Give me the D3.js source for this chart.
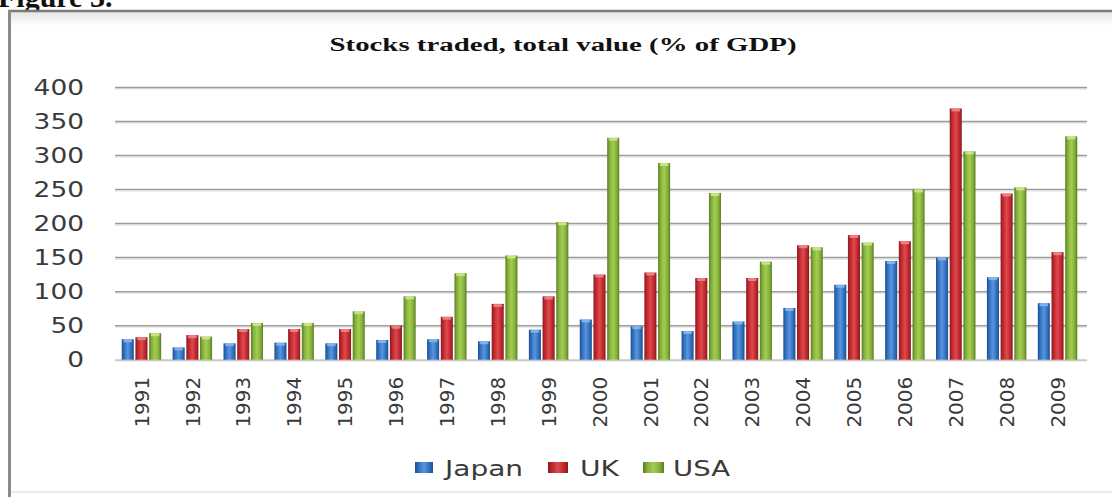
<!DOCTYPE html>
<html>
<head>
<meta charset="utf-8">
<script src="https://cdn.jsdelivr.net/npm/d3@7/dist/d3.min.js"></script>
<style>
  html, body { margin: 0; padding: 0; background: #fff; }
  svg { display: block; }
</style>
</head>
<body>
<svg id="chart" width="1112" height="497"></svg>
<script>
// Stocks traded, total value (% of GDP), 1991-2009
const years = ["1991","1992","1993","1994","1995","1996","1997","1998","1999","2000",
               "2001","2002","2003","2004","2005","2006","2007","2008","2009"];
const seriesNames = ["Japan", "UK", "USA"];
const japan = [30, 18, 24, 25, 24, 29, 30, 27, 44, 59, 49, 42, 56, 76, 110, 145, 150, 121, 83];
const uk    = [33, 36, 45, 45, 45, 50, 63, 82, 93, 125, 128, 120, 120, 168, 183, 174, 369, 244, 158];
const usa   = [39, 34, 54, 54, 71, 93, 127, 153, 202, 326, 289, 245, 144, 165, 172, 250, 306, 253, 328];
const yTicks = [0, 50, 100, 150, 200, 250, 300, 350, 400];

const seriesValues = [japan, uk, usa];
const colors = {
  Japan: { dark: "#1d4f8c", base: "#3172c2", light: "#5a95dc", top: "#8ab8ee" },
  UK:    { dark: "#8a1a1e", base: "#c3282e", light: "#dc4a4f", top: "#ee8a8c" },
  USA:   { dark: "#5a7d22", base: "#86b23a", light: "#a3cc55", top: "#cfe88f" }
};

const svg = d3.select("#chart");
const defs = svg.append("defs");

// cylinder-like shading for each series
seriesNames.forEach(name => {
  const c = colors[name];
  const g = defs.append("linearGradient").attr("id", "grad-" + name)
    .attr("x1", "0%").attr("x2", "100%").attr("y1", "0%").attr("y2", "0%");
  g.append("stop").attr("offset", "0%").attr("stop-color", c.dark);
  g.append("stop").attr("offset", "22%").attr("stop-color", c.base);
  g.append("stop").attr("offset", "50%").attr("stop-color", c.light);
  g.append("stop").attr("offset", "78%").attr("stop-color", c.base);
  g.append("stop").attr("offset", "100%").attr("stop-color", c.dark);
});
const topShade = defs.append("linearGradient").attr("id", "frame-top")
  .attr("x1", "0%").attr("x2", "0%").attr("y1", "0%").attr("y2", "100%");
topShade.append("stop").attr("offset", "0%").attr("stop-color", "#e6e6e6");
topShade.append("stop").attr("offset", "100%").attr("stop-color", "#ffffff");

// Page heading, partly above the visible area
svg.append("text")
  .attr("x", -2).attr("y", 7)
  .attr("font-family", "Liberation Serif, serif")
  .attr("font-weight", "bold")
  .attr("font-size", 30)
  .attr("fill", "#111")
  .text("Figure 3.");

// Chart frame
svg.append("rect").attr("x", 11).attr("y", 12).attr("width", 1101).attr("height", 14)
  .attr("fill", "url(#frame-top)");
svg.append("line").attr("x1", 8).attr("x2", 1112).attr("y1", 11).attr("y2", 11)
  .attr("stroke", "#7a7a7a").attr("stroke-width", 2.5);
svg.append("line").attr("x1", 9.5).attr("x2", 9.5).attr("y1", 10).attr("y2", 497)
  .attr("stroke", "#8a8a8a").attr("stroke-width", 3);
svg.append("line").attr("x1", 11).attr("x2", 1112).attr("y1", 492).attr("y2", 492)
  .attr("stroke", "#e4e4e4").attr("stroke-width", 1.5);

// Title
svg.append("text")
  .attr("x", 563).attr("y", 51)
  .attr("text-anchor", "middle")
  .attr("font-family", "Liberation Serif, serif")
  .attr("font-weight", "bold")
  .attr("font-size", 18.5)
  .attr("fill", "#111")
  .attr("textLength", 467)
  .attr("lengthAdjust", "spacingAndGlyphs")
  .text("Stocks traded, total value (% of GDP)");

// Scales
const plotLeft = 115, plotRight = 1087;
const x = d3.scaleBand().domain(years).range([115, 1084]).paddingInner(0.16).paddingOuter(0.1);
const xs = d3.scaleBand().domain(seriesNames).range([0, x.bandwidth()]).padding(0.12);
const y = d3.scaleLinear().domain([0, 400]).range([359.7, 87.4]);

// Gridlines
const grid = svg.append("g");
grid.selectAll("line.shadow").data(yTicks.filter(t => t > 0)).join("line")
  .attr("class", "shadow")
  .attr("x1", plotLeft).attr("x2", plotRight)
  .attr("y1", d => y(d) + 1.5).attr("y2", d => y(d) + 1.5)
  .attr("stroke", "#e2e2e2").attr("stroke-width", 1.2);
grid.selectAll("line.main").data(yTicks.filter(t => t > 0)).join("line")
  .attr("class", "main")
  .attr("x1", plotLeft).attr("x2", plotRight)
  .attr("y1", d => y(d)).attr("y2", d => y(d))
  .attr("stroke", "#9d9d9d").attr("stroke-width", 1.5);
svg.append("line")
  .attr("x1", plotLeft).attr("x2", plotRight)
  .attr("y1", y(0) + 0.5).attr("y2", y(0) + 0.5)
  .attr("stroke", "#c9c9c9").attr("stroke-width", 2);

// Y axis labels
const yAxis = svg.append("g")
  .attr("transform", "translate(84,0)")
  .call(d3.axisLeft(y).tickValues(yTicks).tickSize(0).tickPadding(0).tickFormat(d3.format("d")));
yAxis.select(".domain").remove();
yAxis.selectAll("text")
  .attr("font-family", "DejaVu Sans, sans-serif")
  .attr("font-size", 22)
  .attr("fill", "#3a3a3a")
  .each(function () {
    const w = this.getComputedTextLength();
    d3.select(this).attr("textLength", w * 1.2).attr("lengthAdjust", "spacingAndGlyphs");
  });

// X axis labels (rotated)
const xAxis = svg.append("g")
  .attr("transform", `translate(0,${y(0)})`)
  .call(d3.axisBottom(x).tickSize(0).tickPadding(0));
xAxis.select(".domain").remove();
xAxis.selectAll("text")
  .attr("font-family", "DejaVu Sans, sans-serif")
  .attr("font-size", 20)
  .attr("fill", "#3a3a3a")
  .attr("text-anchor", "end")
  .attr("dy", "0.36em")
  .attr("transform", "translate(0,17) rotate(-90)")
  .attr("x", 0).attr("y", 0);

// Bars
const rows = years.map((yr, i) => ({
  year: yr,
  values: seriesNames.map((s, k) => ({ series: s, value: seriesValues[k][i] }))
}));
const groups = svg.append("g").selectAll("g").data(rows).join("g")
  .attr("transform", d => `translate(${x(d.year)},0)`);
groups.selectAll("rect.bar").data(d => d.values).join("rect")
  .attr("class", "bar")
  .attr("x", d => xs(d.series))
  .attr("y", d => y(d.value))
  .attr("width", xs.bandwidth())
  .attr("height", d => y(0) - y(d.value))
  .attr("fill", d => `url(#grad-${d.series})`);
// bevelled top edge
groups.selectAll("rect.cap").data(d => d.values).join("rect")
  .attr("class", "cap")
  .attr("x", d => xs(d.series) + 1.5)
  .attr("y", d => y(d.value))
  .attr("width", xs.bandwidth() - 3)
  .attr("height", 3)
  .attr("rx", 1.5)
  .attr("fill", d => colors[d.series].top)
  .attr("opacity", 0.85);

// Legend
const legendItems = [
  { name: "Japan", sx: 415, sw: 18, tx: 445, tw: 78 },
  { name: "UK",    sx: 548, sw: 20, tx: 580, tw: 39 },
  { name: "USA",   sx: 643, sw: 21, tx: 673, tw: 57 }
];
const legend = svg.append("g");
legend.selectAll("rect").data(legendItems).join("rect")
  .attr("x", d => d.sx).attr("y", 462)
  .attr("width", d => d.sw).attr("height", 11)
  .attr("fill", d => `url(#grad-${d.name})`);
legend.selectAll("text").data(legendItems).join("text")
  .attr("x", d => d.tx).attr("y", 476)
  .attr("font-family", "DejaVu Sans, sans-serif")
  .attr("font-size", 21)
  .attr("fill", "#3a3a3a")
  .attr("textLength", d => d.tw)
  .attr("lengthAdjust", "spacingAndGlyphs")
  .text(d => d.name);
</script>
</body>
</html>
